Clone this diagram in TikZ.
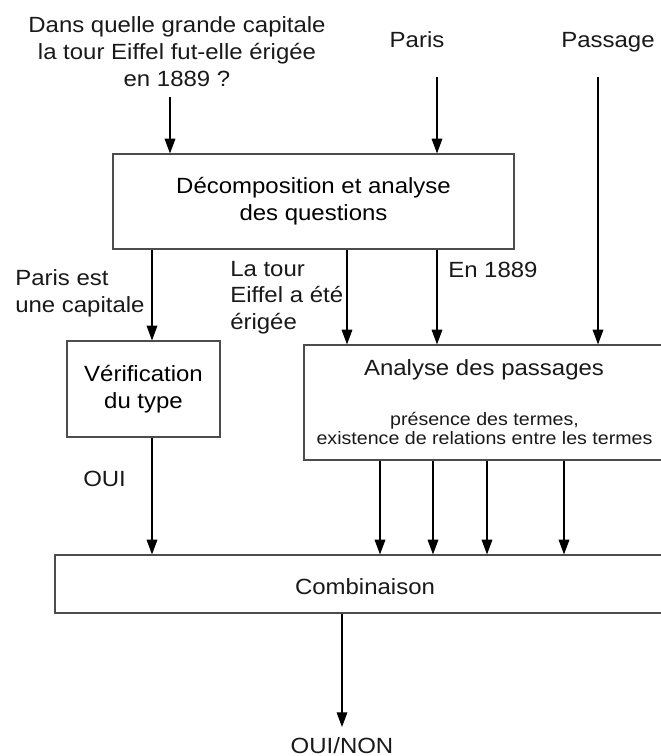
\documentclass[tikz,border=0pt]{standalone}
\usepackage{fontspec}
\setmainfont{Liberation Sans}[FakeStretch=1.09]
\usetikzlibrary{arrows.meta}
\usetikzlibrary{positioning}
\tikzstyle{boite}=[draw=black!70,line width=0.9pt,inner sep=0pt,align=center,font=\fontsize{16.5}{20}\selectfont]
\tikzstyle{texte}=[inner sep=0pt,text=black!90,font=\fontsize{16.5}{20}\selectfont]
\tikzstyle{petit}=[inner sep=0pt,text=black!90,align=center,font=\fontsize{13.5}{12.5}\selectfont]
\tikzstyle{fleche}=[draw,line width=0.8pt,-{Triangle[length=11pt,width=8pt]}]

\begin{document}
\begin{tikzpicture}[x=0.75pt,y=-0.75pt]
    \useasboundingbox (0,0) rectangle (660,756);
    % Les entrees
    \node[texte,align=center] (question) at (177,51.5) {Dans quelle grande capitale\\la tour Eiffel fut-elle érigée\\en 1889 ?};
    \node[texte,anchor=base] (paris) at (417,48) {Paris};
    \node[texte,anchor=base] (passage) at (608,48) {Passage};
    \coordinate (qdepart) at (170,97);
    \coordinate (pdepart) at (437,77);
    \coordinate (sdepart) at (598,77);

    % Les boites
    \node[boite,minimum width=401*0.75pt,minimum height=95*0.75pt] (decomp) at (313.5,201.5) {Décomposition et analyse\\des questions};
    \node[boite,minimum width=153*0.75pt,minimum height=96*0.75pt] (verif) at (143.5,389) {Vérification\\du type};
    \node[boite,minimum width=376*0.75pt,minimum height=115*0.75pt] (analyse) at (492,402.5) {};
    \node[texte,anchor=base] (analysetitre) at (484,375) {Analyse des passages};
    \node[petit] (analysedetail) at (484.5,428.5) {présence des termes,\\existence de relations entre les termes};
    \node[boite,minimum width=630*0.75pt,minimum height=58*0.75pt] (combi) at (370,584) {};
    \node[texte,anchor=base] (combititre) at (365,594) {Combinaison};

    % Les etiquettes
    \node[texte,align=left,anchor=west] (lab1) at (15,293.5) {Paris est\\une capitale};
    \node[texte,align=left,anchor=west] (lab2) at (230,297.5) {La tour\\Eiffel a été\\érigée};
    \node[texte,anchor=base west] (lab3) at (448,277) {En 1889};
    \node[texte,anchor=base west] (oui) at (83,486) {OUI};
    \node[texte,anchor=base] (sortie) at (342,753) {OUI/NON};
    \coordinate (sarrivee) at (342,727);

    % Les fleches
    \path[fleche] (qdepart) -- (decomp.north -| qdepart);
    \path[fleche] (pdepart) -- (decomp.north -| pdepart);
    \path[fleche] (sdepart) -- (analyse.north -| sdepart);
    \path[fleche] (decomp.south -| 152,0) -- (verif.north -| 152,0);
    \foreach \x in {347,437}
        \path[fleche] (decomp.south -| \x,0) -- (analyse.north -| \x,0);
    \path[fleche] (verif.south -| 152,0) -- (combi.north -| 152,0);
    \foreach \x in {380,433,487,564}
        \path[fleche] (analyse.south -| \x,0) -- (combi.north -| \x,0);
    \path[fleche] (combi.south -| sarrivee) -- (sarrivee);
\end{tikzpicture}
\end{document}
